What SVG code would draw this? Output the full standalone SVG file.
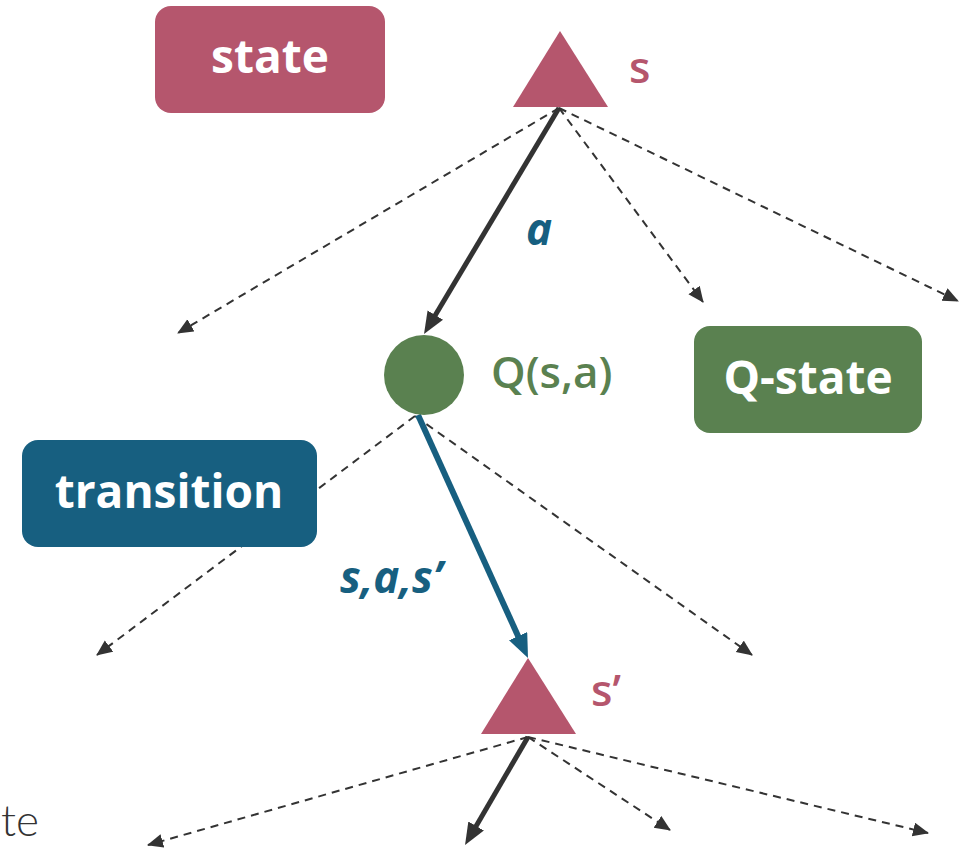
<svg xmlns="http://www.w3.org/2000/svg" width="970" height="849" viewBox="0 0 970 849">
<style>
.dash{stroke:#333;stroke-width:2;stroke-dasharray:8,6;fill:none;marker-end:url(#ad)}
.solid{stroke:#333;stroke-width:5;fill:none;marker-end:url(#as)}
.blue{stroke:#175F80;stroke-width:6;fill:none;marker-end:url(#ab)}
.boxt{font-family:"Open Sans","Liberation Sans",sans-serif;font-weight:700;font-size:46px;fill:#fff;text-anchor:middle}
.lab{font-family:"Open Sans","Liberation Sans",sans-serif;font-size:44px}
</style>
<defs>
<marker id="ad" markerUnits="userSpaceOnUse" markerWidth="18" markerHeight="16" refX="15" refY="7" orient="auto"><path d="M0,0 L16,7 L0,14 z" fill="#333"/></marker>
<marker id="as" markerUnits="userSpaceOnUse" markerWidth="24" markerHeight="20" refX="8" refY="9" orient="auto"><path d="M0,0 L22,9 L0,18 z" fill="#333"/></marker>
<marker id="ab" markerUnits="userSpaceOnUse" markerWidth="26" markerHeight="22" refX="8" refY="10" orient="auto"><path d="M0,0 L24,10 L0,20 z" fill="#175F80"/></marker>
</defs>
<rect width="970" height="849" fill="#fff"/>
<g id="connectors">
<line class="dash" x1="559" y1="108" x2="178" y2="333"/>
<line class="dash" x1="559" y1="108" x2="703" y2="302"/>
<line class="dash" x1="559" y1="108" x2="958" y2="301"/>
<line class="solid" x1="559" y1="108" x2="431.2" y2="322"/>
<line class="dash" x1="415" y1="416" x2="97" y2="655"/>
<line class="dash" x1="415" y1="416" x2="752" y2="655"/>
<line class="blue" x1="418" y1="415" x2="521.4" y2="643.4"/>
<line class="dash" x1="528" y1="737" x2="148" y2="845"/>
<line class="dash" x1="528" y1="737" x2="670" y2="830"/>
<line class="dash" x1="528" y1="737" x2="928" y2="833"/>
<line class="solid" x1="528" y1="737" x2="472.1" y2="832.9"/>
</g>
<g id="state-box"><rect x="155" y="6" width="230" height="107" rx="16" fill="#B5566D"/><text class="boxt" x="270" y="73">state</text></g>
<g id="qstate-box"><rect x="694" y="326" width="228" height="107" rx="16" fill="#5A8150"/><text class="boxt" x="808" y="394">Q-state</text></g>
<g id="transition-box"><rect x="22" y="440" width="295" height="107" rx="16" fill="#175F80"/><text class="boxt" x="169" y="508">transition</text></g>
<g id="s"><polygon points="560,31 513,107 608,107" fill="#B5566D"/><text class="lab" x="629" y="83" fill="#B5566D" font-weight="600">s</text></g>
<g id="q"><circle cx="424" cy="375" r="40" fill="#5A8150"/><text class="lab" x="491" y="388" fill="#5A8150" font-size="46" font-weight="600">Q(s,a)</text></g>
<g id="s-prime"><polygon points="528,658 481,734 576,734" fill="#B5566D"/><text class="lab" x="591" y="706" fill="#B5566D" font-weight="600">s’</text></g>
<text class="lab" x="526" y="245" fill="#175F80" font-weight="700" font-style="italic">a</text>
<text class="lab" x="340" y="593" fill="#175F80" font-weight="700" font-style="italic">s,a,s’</text>
<text x="1" y="836" font-family="Lato,'Open Sans',sans-serif" font-weight="300" font-size="44" fill="#333">te</text>
</svg>
